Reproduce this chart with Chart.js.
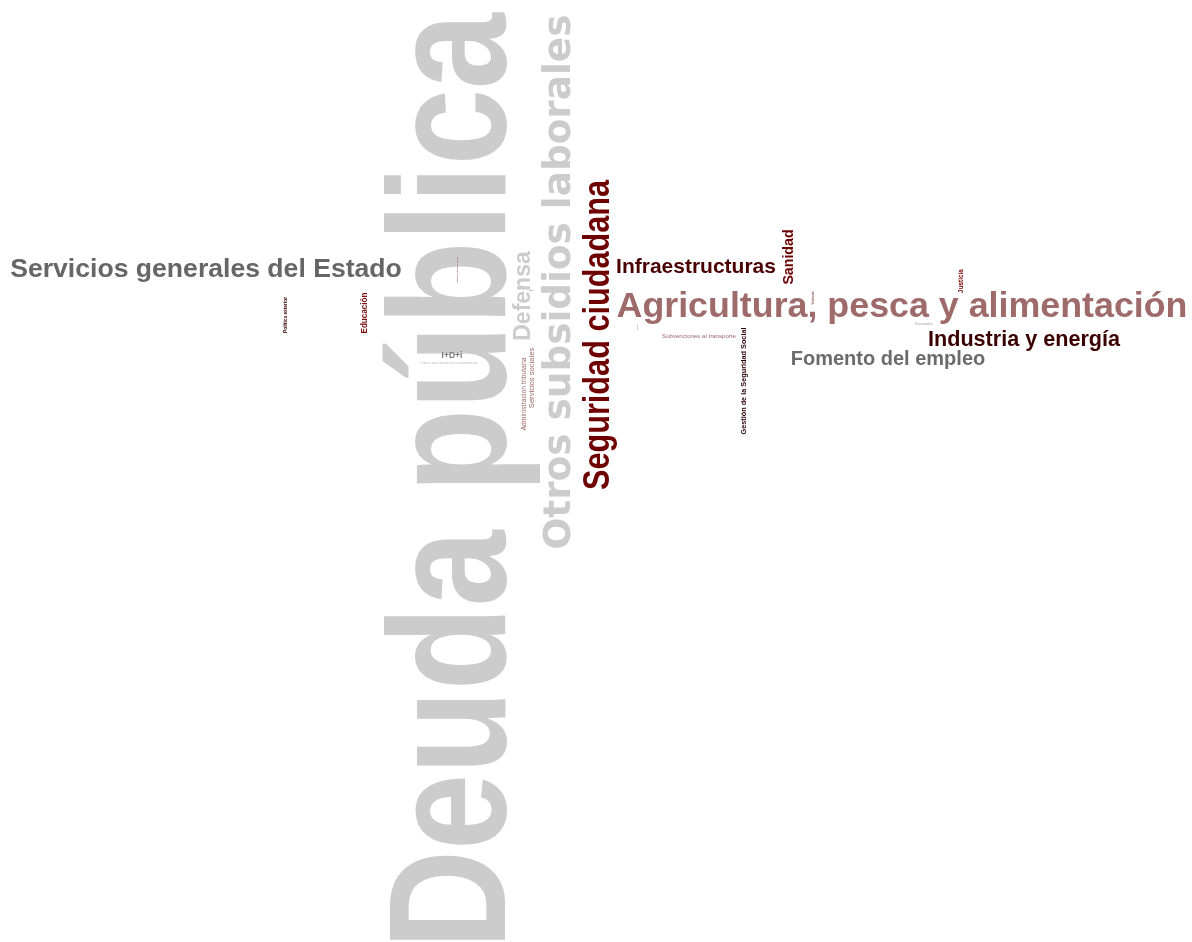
<!DOCTYPE html>
<html>
<head>
<meta charset="utf-8">
<title>Presupuestos - nube de palabras</title>
<script src="https://cdn.jsdelivr.net/npm/chart.js@4"></script>
<style>
  html, body { margin: 0; padding: 0; background: #fff; }
  #wrap { width: 1192px; height: 942px; }
</style>
</head>
<body>
<div id="wrap"><canvas id="cloud"></canvas></div>
<script>
// partidas del presupuesto y su peso (tamaño de letra)
const words = [
  "Deuda pública", "Otros subsidios laborales", "Seguridad ciudadana",
  "Agricultura, pesca y alimentación", "Servicios generales del Estado", "Defensa",
  "Industria y energía", "Infraestructuras", "Fomento del empleo", "Sanidad",
  "Educación", "I+D+i", "Servicios sociales", "Gestión de la Seguridad Social",
  "Administración tributaria", "Justicia", "Subvenciones al transporte",
  "Política exterior", "Otras actuaciones económicas", "Comercio, turismo y pymes",
  "Vivienda", "Cultura", "Desempleo", "Pensiones"
];
const weights = [167, 37.4, 37.4, 35.8, 26.6, 23, 21.6, 21, 20, 14.2, 9.9, 8.5, 7.6, 7.3, 6.8, 6.4, 6.1, 4.8, 4.2, 2.0, 3.2, 1.2, 3.4, 1.0];

// posición de cada palabra en la nube (unidades del lienzo de la nube)
const layoutX = [505, 570, 609, 902, 206, 530, 1024, 696, 888, 793, 367, 452, 534, 746, 526, 963, 699, 287, 449, 458, 814, 531, 924, 638];
const layoutY = [481, 282, 335, 317, 277, 296, 346, 273, 365, 257, 313, 358, 378, 381, 394, 281, 338, 315, 364, 270, 298, 291, 325, 327];
const vertical = [true, true, true, false, false, true, false, false, false, true, true, false, true, true, true, true, false, true, false, true, true, false, false, true];

// estilos
const colors = [
  "#cccccc", "#cccccc", "#6e0000", "#9e6a6a", "#666666", "#cccccc",
  "#3a0000", "#4a0000", "#6b6b6b", "#6b0000", "#7b1010", "#777777",
  "#9e6a6a", "#2b0000", "#9e6a6a", "#7a0000", "#9e6a6a", "#3a0000",
  "#bbbbbb", "#9e6a6a", "#9e6a6a", "#9e6a6a", "#bbbbbb", "#aaaaaa"
];
const fontKind = [
  "narrow", "dejavu", "narrow", "bold", "bold", "bold", "bold", "bold", "bold", "bold",
  "narrow", "bold", "regular", "bold", "regular", "bold", "regular", "bold", "regular", "bold",
  "bold", "bold", "bold", "bold"
];

const fontFor = (kind, size) => {
  if (kind === "dejavu") return `bold ${size}px "DejaVu Sans", sans-serif`;
  if (kind === "regular") return `${size}px "Liberation Sans", Arial, sans-serif`;
  return `bold ${size}px "Liberation Sans", Arial, sans-serif`;
};

const wordPlugin = {
  id: "wordPlugin",
  afterDatasetsDraw(chart) {
    const ctx = chart.ctx;
    const meta = chart.getDatasetMeta(0);
    meta.data.forEach((el, i) => {
      ctx.save();
      ctx.translate(el.x, el.y);
      if (vertical[i]) ctx.rotate(-Math.PI / 2);
      if (fontKind[i] === "narrow") ctx.scale(0.82, 1);
      ctx.font = fontFor(fontKind[i], weights[i]);
      ctx.fillStyle = colors[i];
      ctx.textAlign = "center";
      ctx.textBaseline = "alphabetic";
      ctx.fillText(words[i], 0, 0);
      ctx.restore();
    });
  }
};

const ctx = document.getElementById("cloud").getContext("2d");
const cloud = new Chart(ctx, {
  type: "scatter",
  data: {
    datasets: [{
      label: "Presupuesto",
      data: words.map((w, i) => ({ x: layoutX[i], y: layoutY[i] })),
      pointRadius: 0,
      pointHoverRadius: 0
    }]
  },
  options: {
    responsive: true,
    maintainAspectRatio: false,
    animation: false,
    events: [],
    layout: { padding: 0 },
    plugins: {
      legend: { display: false },
      tooltip: { enabled: false }
    },
    scales: {
      x: { type: "linear", min: 0, max: 1192, display: false },
      y: { type: "linear", min: 0, max: 942, reverse: true, display: false }
    }
  },
  plugins: [wordPlugin]
});
</script>
</body>
</html>
